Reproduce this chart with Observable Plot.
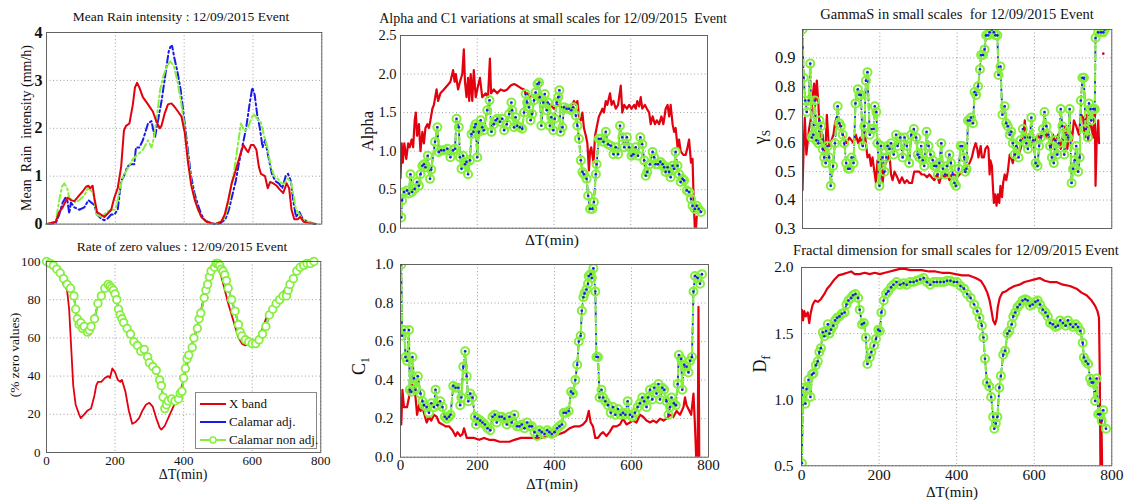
<!DOCTYPE html>
<html><head><meta charset="utf-8">
<script src="https://cdn.jsdelivr.net/npm/d3@7"></script>
<script src="https://cdn.jsdelivr.net/npm/@observablehq/plot@0.6"></script>
<style>
body{margin:0;background:#fff;}
#root{position:relative;width:1130px;height:502px;overflow:hidden;font-family:"Liberation Serif","DejaVu Serif",serif;color:#111;}
#root svg text{font-family:"Liberation Serif","DejaVu Serif",serif;}
.lbl{position:absolute;white-space:nowrap;transform:translate(-50%,-50%);line-height:1;}
.rot{transform:translate(-50%,-50%) rotate(-90deg);}
#legend{position:absolute;left:195px;top:392px;width:122px;height:57px;border:1px solid #888;background:#fff;box-sizing:border-box;font-size:13px;white-space:nowrap;}
#legend .row{position:absolute;left:4px;height:16px;display:flex;align-items:center;white-space:nowrap;}
#legend svg{margin-right:3px;flex:none;}
sub{font-size:0.65em;}
</style></head>
<body><div id="root"></div>
<script>
// ---------- data (minutes, value) ----------
const xTicks = [0, 200, 400, 600, 800];

const rainXband = [[0,0],[27,0.05],[37,0.25],[47,0.35],[61,0.55],[71,0.5],[81,0.48],[95,0.6],[105,0.68],[115,0.78],[122,0.8],[127,0.75],[134,0.8],[139,0.55],[147,0.25],[158,0.2],[168,0.15],[178,0.22],[188,0.3],[197,0.55],[207,0.75],[217,1.2],[225,1.95],[231,2.05],[241,2.1],[251,2.5],[257,2.85],[263,2.95],[270,2.85],[280,2.65],[295,2.5],[309,2.35],[319,2.15],[329,2.0],[334,2.05],[343,2.3],[353,2.5],[363,2.52],[372,2.45],[382,2.35],[392,2.25],[402,1.9],[411,1.3],[421,0.8],[431,0.5],[441,0.3],[450,0.15],[465,0.05],[489,0],[508,0.05],[518,0.2],[528,0.5],[538,0.85],[547,1.05],[557,1.3],[565,1.5],[572,1.65],[581,1.55],[586,1.5],[594,1.65],[602,1.65],[610,1.55],[617,1.2],[623,1.05],[635,1.0],[643,0.75],[650,0.88],[659,0.85],[669,0.8],[678,0.72],[688,0.65],[698,0.85],[705,0.75],[712,0.3],[720,0.1],[730,0.1],[737,0.15],[747,0.05],[761,0.02],[785,0]];
const rainAdj = [[0,0],[27,0.02],[37,0.2],[47,0.45],[55,0.55],[61,0.48],[66,0.22],[71,0.45],[81,0.35],[95,0.3],[110,0.35],[122,0.5],[130,0.45],[139,0.4],[147,0.2],[158,0.12],[168,0.08],[178,0.12],[188,0.2],[197,0.2],[207,0.3],[217,0.9],[225,1.0],[235,1.2],[245,1.25],[255,1.25],[260,1.6],[270,1.6],[280,1.75],[295,2.1],[305,2.15],[315,1.8],[325,2.2],[335,2.6],[345,3.1],[355,3.6],[360,3.7],[365,3.72],[372,3.45],[380,3.2],[390,2.8],[400,2.2],[410,1.6],[420,1.0],[430,0.65],[440,0.4],[450,0.2],[460,0.08],[475,0.03],[490,0],[505,0.02],[520,0.1],[530,0.3],[540,0.6],[550,0.9],[560,1.3],[570,1.65],[580,2.0],[590,2.5],[598,2.85],[605,2.7],[612,2.3],[620,2.0],[628,1.6],[635,1.75],[645,1.4],[655,1.05],[665,0.9],[675,0.85],[685,0.75],[695,1.0],[702,1.05],[710,0.9],[718,0.45],[725,0.15],[735,0.25],[745,0.1],[760,0.05],[780,0]];
const rainNonAdj = [[0,0],[27,0.05],[37,0.5],[45,0.78],[52,0.85],[60,0.75],[66,0.55],[75,0.5],[85,0.45],[95,0.5],[110,0.6],[120,0.75],[130,0.7],[137,0.6],[145,0.2],[160,0.15],[175,0.25],[190,0.3],[200,0.3],[210,0.6],[220,0.95],[235,1.15],[250,1.35],[265,1.45],[280,1.55],[295,1.75],[305,1.6],[312,1.8],[320,2.2],[330,2.8],[340,3.1],[350,3.3],[360,3.4],[370,3.3],[380,3.0],[390,2.6],[400,2.1],[410,1.5],[420,0.9],[430,0.55],[440,0.3],[450,0.15],[460,0.08],[475,0.02],[490,0],[505,0.05],[515,0.1],[525,0.3],[535,0.7],[545,1.1],[555,1.6],[565,2.1],[575,1.95],[585,2.0],[595,2.2],[602,2.3],[612,2.2],[622,2.15],[632,1.85],[642,1.6],[652,1.2],[662,1.0],[672,0.95],[682,0.85],[692,0.85],[700,0.95],[710,0.9],[718,0.6],[725,0.3],[735,0.2],[745,0.1],[760,0.05],[780,0]];

const zeroXband = [[0,100],[20,98],[30,96],[40,92],[50,88],[60,85],[66,75],[72,55],[78,35],[85,25],[95,20],[100,18],[110,20],[120,22],[130,23],[140,30],[145,35],[150,37],[160,37],[170,39],[180,40],[185,39],[192,44],[200,42],[208,38],[215,37],[220,38],[230,32],[240,22],[250,15],[260,16],[270,18],[280,22],[290,25],[300,26],[310,24],[320,18],[330,13],[335,12],[345,14],[355,18],[365,22],[375,26],[385,30],[395,35],[405,42],[415,50],[425,57],[435,63],[445,70],[455,78],[465,85],[475,92],[490,98],[500,97],[510,92],[520,85],[530,78],[540,72],[550,66],[560,60],[570,57],[580,56],[590,57],[600,58],[610,58],[620,60],[630,65],[640,70],[650,74],[660,77],[670,80],[680,82],[690,84],[700,86],[710,88],[720,92],[730,95],[740,98],[750,99],[770,99],[785,100]];
const zeroNonAdj = [[0,100],[10,99],[20,98],[30,96],[40,94],[50,91],[60,88],[70,86],[80,82],[85,75],[90,70],[95,67],[100,68],[105,65],[110,66],[120,63],[125,64],[130,66],[140,70],[150,78],[160,82],[170,86],[180,88],[185,87],[190,86],[195,85],[200,83],[205,80],[210,75],[215,72],[220,70],[225,68],[235,65],[245,62],[255,58],[265,56],[275,53],[285,54],[295,50],[300,47],[310,45],[320,43],[330,38],[335,35],[340,29],[345,23],[350,25],[355,27],[365,28],[375,27],[385,28],[390,31],[395,32],[400,39],[405,44],[410,49],[415,51],[425,55],[430,60],[440,65],[445,70],[450,73],[460,81],[465,85],[470,88],[475,92],[480,95],[490,97],[495,99],[500,99],[505,98],[510,96],[515,95],[520,93],[525,90],[530,86],[540,80],[550,74],[560,67],[565,63],[570,61],[580,59],[590,58],[600,57],[610,57],[620,59],[630,62],[640,66],[650,72],[660,75],[670,78],[680,80],[690,82],[700,82],[705,85],[710,88],[720,91],[730,95],[740,97],[750,98],[760,99],[770,99],[780,100]];
const zeroAdj = zeroNonAdj;

const alphaXband = [[0,0.65],[3,1.1],[6,0.85],[10,1.1],[15,0.9],[20,1.1],[24,1.05],[29,1.15],[33,1.05],[37,1.4],[40,1.5],[43,1.2],[48,1.35],[52,1.0],[57,1.25],[61,1.1],[65,1.3],[70,1.35],[74,1.3],[78,1.4],[83,1.55],[87,1.6],[94,1.8],[98,1.65],[104,1.75],[113,1.8],[122,1.85],[130,1.9],[137,2.05],[141,1.9],[144,2.0],[150,1.8],[155,1.9],[161,2.0],[165,2.32],[168,1.9],[172,1.7],[176,1.95],[179,1.65],[183,2.0],[187,1.65],[191,2.05],[196,1.7],[200,1.8],[207,1.95],[213,1.7],[222,1.75],[228,1.7],[233,2.2],[236,1.75],[243,1.8],[252,1.75],[261,1.8],[270,1.78],[278,1.8],[287,1.85],[296,1.87],[304,1.85],[313,1.82],[322,1.8],[326,1.75],[330,1.75],[339,1.7],[348,1.72],[357,1.7],[365,1.65],[374,1.68],[383,1.62],[391,1.6],[400,1.55],[409,1.6],[417,1.58],[426,1.55],[435,1.6],[443,1.55],[452,1.65],[457,1.6],[461,1.65],[465,1.45],[470,1.4],[474,1.5],[478,1.3],[483,1.2],[487,1.1],[491,0.75],[494,1.0],[497,1.05],[503,0.85],[507,1.2],[511,1.3],[517,1.45],[522,1.5],[526,1.55],[530,1.5],[535,1.65],[539,1.6],[546,1.75],[550,1.6],[555,1.65],[561,1.55],[567,1.6],[574,1.85],[578,1.5],[583,1.6],[590,1.55],[596,1.6],[602,1.55],[609,1.6],[613,1.55],[617,1.65],[622,1.58],[626,1.7],[630,1.55],[637,1.6],[642,1.55],[648,1.5],[652,1.35],[657,1.45],[663,1.35],[668,1.4],[674,1.35],[680,1.45],[685,1.35],[691,1.55],[696,1.6],[700,1.45],[704,1.6],[709,1.35],[713,1.25],[717,1.3],[722,1.05],[726,1.15],[730,1.0],[737,0.95],[743,0.95],[748,1.05],[752,1.15],[757,0.85],[761,0.9],[764,0.35],[767,0],[770,0],[772,0.15]];
const alphaNonAdj = [[2,0.14],[4,0.36],[9,0.47],[17,0.49],[22,0.45],[26,0.7],[30,0.47],[37,0.51],[43,0.6],[48,0.55],[52,0.7],[57,0.81],[61,0.83],[65,0.79],[71,0.94],[77,0.64],[80,0.76],[90,1.12],[96,1.31],[100,0.99],[106,1.01],[113,1.01],[122,1.03],[130,0.92],[137,1.01],[142,1.03],[146,1.42],[152,1.31],[155,0.92],[159,0.77],[163,0.94],[168,0.83],[172,0.86],[176,0.7],[181,0.88],[185,1.22],[190,1.25],[193,1.31],[196,1.35],[200,0.92],[204,1.25],[209,1.4],[213,1.31],[217,1.27],[226,1.53],[232,1.66],[237,1.25],[243,1.35],[248,1.4],[252,1.42],[259,1.38],[265,1.42],[270,1.27],[277,1.35],[283,1.48],[289,1.63],[291,1.53],[296,1.31],[300,1.44],[304,1.33],[311,1.31],[317,1.29],[322,1.5],[326,1.74],[330,1.63],[335,1.57],[339,1.4],[343,1.48],[348,1.66],[352,1.76],[357,1.87],[361,1.89],[363,1.7],[367,1.33],[372,1.63],[376,1.74],[381,1.53],[384,1.63],[389,1.33],[393,1.44],[398,1.27],[402,1.42],[407,1.63],[411,1.7],[414,1.79],[417,1.25],[422,1.31],[426,1.57],[433,1.55],[439,1.55],[445,1.53],[450,1.57],[457,1.46],[461,1.33],[465,1.16],[470,0.88],[474,0.73],[478,0.7],[485,0.64],[489,0.42],[494,0.25],[500,0.25],[504,0.34],[509,0.7],[511,0.83],[517,1.16],[522,1.16],[529,1.12],[535,1.25],[541,1.09],[548,1.07],[555,0.96],[561,1.05],[567,0.96],[572,1.33],[578,1.18],[583,1.05],[590,1.18],[596,1.05],[602,0.94],[607,0.96],[613,1.05],[619,0.94],[625,1.18],[630,1.09],[635,0.88],[639,0.68],[643,0.73],[650,0.83],[657,0.99],[661,0.92],[665,0.83],[671,0.83],[677,0.86],[683,0.83],[687,0.79],[691,0.73],[696,0.79],[700,0.73],[704,0.66],[709,0.81],[713,0.77],[717,0.99],[722,0.81],[726,0.7],[730,0.6],[735,0.64],[739,0.62],[746,0.49],[752,0.47],[757,0.38],[761,0.29],[767,0.25],[772,0.29],[777,0.25],[783,0.21]];
const alphaAdj = alphaNonAdj;

const c1Xband = [[2,0.17],[5,0.35],[9,0.26],[13,0.26],[17,0.26],[22,0.31],[24,0.36],[28,0.38],[33,0.37],[37,0.35],[40,0.29],[43,0.22],[48,0.27],[52,0.24],[57,0.26],[61,0.23],[68,0.18],[74,0.21],[80,0.19],[87,0.22],[94,0.21],[100,0.18],[109,0.17],[117,0.16],[126,0.16],[135,0.14],[143,0.11],[148,0.13],[155,0.11],[161,0.12],[165,0.15],[172,0.1],[181,0.1],[191,0.1],[204,0.09],[217,0.1],[230,0.09],[243,0.09],[257,0.08],[270,0.08],[283,0.08],[296,0.09],[313,0.1],[330,0.1],[348,0.1],[365,0.1],[383,0.11],[400,0.11],[413,0.12],[426,0.13],[439,0.15],[452,0.16],[465,0.16],[474,0.17],[483,0.19],[489,0.24],[494,0.18],[500,0.16],[506,0.1],[513,0.1],[520,0.12],[526,0.13],[535,0.11],[543,0.13],[552,0.16],[561,0.16],[570,0.17],[578,0.2],[587,0.17],[596,0.18],[604,0.19],[613,0.18],[622,0.22],[630,0.21],[639,0.19],[648,0.18],[657,0.19],[665,0.18],[674,0.2],[683,0.19],[691,0.2],[700,0.22],[709,0.21],[717,0.24],[726,0.22],[735,0.26],[739,0.31],[743,0.27],[748,0.25],[755,0.22],[761,0.33],[765,0.16],[768,0],[772,0],[774,0.78],[776,0]];
const c1NonAdj = [[2,1.0],[4,0.63],[10,0.66],[13,0.52],[17,0.5],[22,0.66],[24,0.35],[28,0.34],[31,0.52],[35,0.41],[39,0.35],[45,0.42],[52,0.33],[57,0.29],[61,0.27],[68,0.26],[74,0.23],[80,0.28],[87,0.26],[91,0.35],[96,0.27],[103,0.29],[109,0.26],[115,0.21],[120,0.2],[126,0.21],[130,0.22],[137,0.37],[143,0.36],[150,0.36],[155,0.27],[158,0.31],[163,0.47],[168,0.55],[172,0.42],[176,0.29],[181,0.33],[187,0.31],[193,0.21],[196,0.17],[200,0.2],[207,0.19],[213,0.18],[219,0.17],[226,0.15],[233,0.14],[239,0.21],[245,0.22],[250,0.18],[257,0.21],[263,0.21],[270,0.2],[276,0.17],[283,0.21],[289,0.18],[296,0.22],[303,0.16],[309,0.16],[315,0.17],[322,0.15],[329,0.18],[335,0.16],[341,0.16],[348,0.13],[355,0.11],[361,0.14],[367,0.13],[374,0.12],[381,0.14],[387,0.13],[393,0.12],[400,0.13],[407,0.15],[413,0.16],[419,0.17],[424,0.23],[430,0.23],[437,0.24],[443,0.34],[448,0.33],[454,0.4],[459,0.48],[463,0.6],[468,0.63],[471,0.76],[475,0.83],[478,0.85],[483,0.87],[487,0.9],[489,0.94],[494,0.95],[497,0.93],[501,0.98],[506,0.86],[509,0.52],[513,0.52],[517,0.31],[522,0.35],[526,0.31],[532,0.29],[539,0.27],[546,0.23],[552,0.26],[558,0.22],[565,0.25],[572,0.22],[578,0.23],[584,0.22],[590,0.29],[596,0.22],[602,0.21],[609,0.23],[616,0.26],[622,0.28],[628,0.31],[633,0.29],[639,0.26],[643,0.31],[648,0.35],[654,0.3],[659,0.36],[665,0.33],[670,0.38],[674,0.3],[680,0.36],[685,0.35],[691,0.29],[696,0.22],[700,0.26],[704,0.31],[710,0.28],[715,0.27],[720,0.38],[723,0.53],[729,0.51],[732,0.35],[737,0.48],[743,0.47],[748,0.44],[752,0.5],[757,0.52],[761,0.86],[765,0.94],[772,0.93],[778,0.9],[783,0.95]];
const c1Adj = c1NonAdj;

const gammaXband = [[0,0.435],[3,0.59],[6,0.69],[10,0.56],[13,0.6],[17,0.65],[22,0.69],[26,0.76],[30,0.81],[34,0.75],[37,0.82],[41,0.74],[44,0.65],[48,0.6],[52,0.63],[56,0.56],[60,0.6],[63,0.7],[67,0.61],[70,0.59],[75,0.61],[80,0.63],[84,0.67],[88,0.69],[92,0.68],[98,0.66],[104,0.63],[110,0.61],[115,0.6],[121,0.62],[127,0.61],[132,0.6],[138,0.63],[144,0.6],[149,0.62],[156,0.59],[160,0.65],[164,0.6],[168,0.55],[173,0.56],[177,0.52],[181,0.55],[186,0.5],[190,0.46],[194,0.54],[199,0.49],[203,0.55],[207,0.46],[212,0.52],[219,0.54],[225,0.56],[229,0.49],[233,0.47],[238,0.5],[245,0.48],[251,0.46],[257,0.48],[264,0.46],[270,0.47],[276,0.46],[283,0.46],[289,0.5],[296,0.5],[302,0.5],[308,0.49],[315,0.49],[322,0.48],[328,0.49],[334,0.48],[341,0.47],[348,0.49],[354,0.46],[360,0.49],[367,0.48],[374,0.49],[380,0.47],[386,0.49],[393,0.49],[400,0.48],[406,0.49],[412,0.5],[419,0.51],[426,0.52],[432,0.53],[438,0.55],[443,0.58],[448,0.6],[452,0.58],[455,0.55],[461,0.59],[464,0.55],[469,0.55],[473,0.58],[478,0.59],[481,0.58],[484,0.49],[486,0.54],[490,0.52],[492,0.46],[495,0.39],[498,0.42],[502,0.38],[505,0.42],[509,0.39],[512,0.45],[516,0.41],[519,0.46],[523,0.49],[527,0.47],[531,0.5],[536,0.56],[540,0.55],[544,0.53],[549,0.56],[553,0.59],[557,0.58],[562,0.57],[566,0.59],[570,0.61],[575,0.68],[579,0.61],[585,0.63],[590,0.59],[596,0.61],[602,0.61],[609,0.63],[616,0.61],[622,0.65],[628,0.62],[635,0.64],[642,0.58],[648,0.63],[654,0.6],[661,0.63],[668,0.58],[674,0.63],[680,0.66],[685,0.58],[691,0.65],[697,0.61],[702,0.68],[708,0.66],[715,0.63],[720,0.7],[726,0.69],[730,0.62],[734,0.7],[739,0.61],[743,0.67],[747,0.66],[752,0.62],[756,0.73],[758,0.45],[761,0.61],[765,0.68],[767,0.6]];
const gammaXbandDot = [[778,0.915]];
const gammaNonAdj = [[0,1.0],[3,0.83],[7,0.75],[11,0.71],[16,0.75],[20,0.88],[24,0.62],[28,0.63],[32,0.75],[36,0.61],[41,0.6],[44,0.68],[48,0.66],[52,0.58],[56,0.55],[60,0.53],[65,0.59],[69,0.55],[73,0.45],[79,0.52],[84,0.6],[91,0.73],[95,0.67],[99,0.66],[104,0.63],[108,0.6],[113,0.53],[118,0.51],[122,0.51],[127,0.55],[132,0.53],[137,0.74],[143,0.79],[147,0.77],[151,0.77],[156,0.59],[160,0.66],[164,0.82],[168,0.85],[174,0.63],[179,0.65],[184,0.65],[187,0.73],[191,0.71],[194,0.6],[199,0.45],[203,0.59],[207,0.55],[212,0.5],[217,0.55],[220,0.59],[225,0.58],[229,0.6],[236,0.56],[242,0.63],[246,0.59],[253,0.62],[259,0.55],[264,0.62],[270,0.59],[276,0.53],[281,0.63],[288,0.65],[294,0.62],[298,0.56],[302,0.55],[307,0.59],[311,0.54],[315,0.52],[321,0.64],[326,0.59],[331,0.56],[337,0.54],[341,0.52],[346,0.52],[350,0.49],[354,0.53],[359,0.6],[363,0.51],[369,0.49],[374,0.52],[380,0.56],[384,0.53],[389,0.49],[393,0.46],[397,0.45],[404,0.51],[409,0.59],[413,0.59],[418,0.55],[421,0.5],[424,0.51],[428,0.68],[433,0.68],[436,0.69],[441,0.67],[445,0.78],[449,0.77],[454,0.8],[459,0.86],[462,0.91],[467,0.91],[471,0.93],[475,0.98],[480,0.98],[484,0.99],[490,1.0],[495,0.99],[499,0.98],[504,0.98],[507,0.84],[512,0.87],[517,0.7],[523,0.73],[527,0.67],[531,0.66],[536,0.63],[540,0.64],[544,0.6],[549,0.56],[553,0.59],[559,0.55],[564,0.61],[570,0.65],[575,0.62],[579,0.6],[583,0.58],[588,0.62],[592,0.69],[597,0.61],[603,0.53],[608,0.52],[612,0.59],[616,0.62],[622,0.65],[626,0.71],[631,0.66],[635,0.63],[640,0.59],[645,0.55],[650,0.53],[654,0.61],[659,0.56],[663,0.6],[668,0.72],[672,0.66],[677,0.56],[683,0.63],[687,0.62],[691,0.72],[696,0.46],[700,0.51],[704,0.54],[708,0.59],[713,0.5],[717,0.55],[720,0.75],[724,0.83],[728,0.83],[732,0.65],[738,0.62],[741,0.74],[745,0.72],[747,0.68],[752,0.72],[756,0.72],[758,0.97],[765,0.99],[772,0.99],[778,0.99],[782,1.0]];
const gammaAdj = gammaNonAdj;

const dfXband = [[1,1.68],[4,1.6],[7,1.67],[11,1.63],[16,1.66],[20,1.58],[24,1.66],[29,1.72],[35,1.75],[42,1.74],[50,1.76],[59,1.8],[66,1.84],[75,1.87],[85,1.91],[95,1.94],[107,1.95],[118,1.96],[128,1.97],[137,1.95],[150,1.95],[163,1.96],[176,1.95],[189,1.96],[202,1.95],[215,1.96],[228,1.97],[241,1.98],[254,1.99],[267,1.99],[280,1.98],[293,1.98],[310,1.98],[328,1.97],[345,1.97],[362,1.96],[380,1.96],[397,1.95],[414,1.94],[432,1.94],[449,1.92],[462,1.9],[471,1.86],[479,1.81],[485,1.75],[490,1.67],[494,1.6],[499,1.57],[503,1.61],[506,1.7],[511,1.77],[518,1.81],[527,1.82],[536,1.84],[549,1.86],[562,1.87],[575,1.89],[588,1.9],[601,1.91],[614,1.92],[627,1.9],[640,1.89],[657,1.89],[674,1.87],[692,1.86],[709,1.84],[722,1.81],[735,1.79],[748,1.75],[757,1.71],[763,1.67],[767,1.62],[769,1.2],[771,0.35],[773,0.9],[776,0.3]];
const dfNonAdj = [[1,0.52],[4,1.09],[10,0.97],[13,1.08],[18,1.15],[23,1.02],[27,1.19],[31,1.2],[37,1.26],[42,1.29],[46,1.36],[50,1.39],[55,1.51],[59,1.48],[63,1.52],[68,1.57],[72,1.5],[76,1.53],[82,1.56],[87,1.6],[92,1.62],[98,1.63],[104,1.65],[111,1.66],[116,1.72],[121,1.75],[128,1.77],[133,1.79],[139,1.8],[146,1.77],[150,1.68],[156,1.57],[161,1.58],[166,1.47],[170,1.27],[176,1.32],[180,1.36],[187,1.41],[192,1.46],[198,1.53],[202,1.52],[206,1.66],[212,1.75],[218,1.8],[224,1.82],[231,1.85],[237,1.87],[245,1.89],[254,1.87],[263,1.88],[271,1.87],[280,1.89],[289,1.89],[297,1.9],[306,1.91],[315,1.92],[323,1.89],[332,1.87],[341,1.89],[349,1.89],[358,1.89],[367,1.89],[375,1.9],[384,1.9],[393,1.89],[401,1.89],[410,1.86],[419,1.84],[427,1.8],[436,1.77],[445,1.72],[453,1.67],[459,1.62],[465,1.56],[469,1.47],[473,1.31],[478,1.13],[484,1.1],[489,1.02],[494,0.87],[497,0.78],[501,0.82],[505,0.87],[510,1.09],[514,1.18],[520,1.34],[525,1.37],[531,1.5],[536,1.52],[542,1.57],[546,1.63],[551,1.66],[557,1.7],[563,1.72],[570,1.75],[577,1.76],[583,1.75],[589,1.71],[596,1.72],[603,1.74],[609,1.75],[615,1.72],[622,1.68],[629,1.66],[635,1.63],[641,1.58],[648,1.57],[655,1.55],[661,1.56],[667,1.6],[674,1.58],[681,1.56],[687,1.6],[693,1.57],[700,1.55],[707,1.57],[713,1.55],[719,1.52],[725,1.43],[728,1.32],[733,1.29],[739,1.27],[744,1.16],[748,1.13],[752,1.13],[757,0.99],[761,1.16],[765,0.89],[770,0.89],[774,0.84],[778,0.92],[785,0.78]];
const dfAdj = dfNonAdj;

// ---------- styles ----------
const RED = "#e3000f", BLUE = "#1a1ae8", GREEN = "#86ef3e";
const toObj = a => a.map(([t, v]) => ({t, v}));
const root = document.getElementById("root");

function panel(cfg) {
  const ML = 60, MR = 12, MT = 12, MB = 40;
  const w = cfg.x1 - cfg.x0 + ML + MR, h = cfg.y1 - cfg.y0 + MT + MB;
  const grid = {stroke: "#8a8a8a", strokeOpacity: 1, strokeWidth: 0.8, strokeDasharray: "1,2.5"};
  const marks = [
    Plot.gridX(xTicks, grid),
    Plot.gridY(cfg.yticks, grid),
    Plot.axisY(cfg.yticks, {tickSize: 0, tickPadding: cfg.padY, label: null, fontSize: cfg.font, fontWeight: cfg.bold ? "bold" : "normal"}),
    cfg.showX
      ? Plot.axisX(xTicks, {tickSize: 0, tickPadding: cfg.padX, label: null, fontSize: cfg.font})
      : Plot.axisX(xTicks, {tickSize: 0, tickFormat: () => "", label: null}),
    ...cfg.marks,
    Plot.frame({stroke: "#555", strokeWidth: 0.9})
  ];
  const p = Plot.plot({
    width: w, height: h, marginLeft: ML, marginRight: MR, marginTop: MT, marginBottom: MB,
    style: {fontFamily: "'Liberation Serif', serif", background: "transparent", color: "#111", overflow: "visible"},
    x: {domain: [0, 800]},
    y: {domain: cfg.ydomain},
    marks
  });
  p.style.position = "absolute";
  p.style.left = (cfg.x0 - ML) + "px";
  p.style.top = (cfg.y0 - MT) + "px";
  root.appendChild(p);
}

const redLine = (d, w = 2) => Plot.line(toObj(d), {x: "t", y: "v", stroke: RED, strokeWidth: w, clip: true});
const blueDash = d => Plot.line(toObj(d), {x: "t", y: "v", stroke: BLUE, strokeWidth: 1.8, strokeDasharray: "6,3,1.5,3", clip: true});
const greenDash = d => Plot.line(toObj(d), {x: "t", y: "v", stroke: GREEN, strokeWidth: 2.2, strokeDasharray: "6,4", clip: true});
const greenRings = d => Plot.dot(toObj(d), {x: "t", y: "v", r: 4, stroke: GREEN, strokeWidth: 2, fill: "none", clip: true});
const blueDots = d => Plot.dot(toObj(d), {x: "t", y: "v", r: 1.3, fill: BLUE, stroke: "none", clip: true});
const scaleMarks = (xb, adj, non) => [redLine(xb, 2.2), blueDash(adj), greenDash(non), greenRings(non), blueDots(adj)];

// Panel 1: mean rain intensity
panel({x0: 45.7, x1: 321, y0: 31.7, y1: 223.3, ydomain: [0, 4], yticks: [0, 1, 2, 3, 4],
  showX: false, font: 16, bold: true, padY: 4,
  marks: [
    Plot.line(toObj(rainAdj), {x: "t", y: "v", stroke: BLUE, strokeWidth: 2, strokeDasharray: "7,3,2,3"}),
    Plot.line(toObj(rainNonAdj), {x: "t", y: "v", stroke: GREEN, strokeWidth: 2, strokeDasharray: "7,3,2,3"}),
    redLine(rainXband, 2)
  ]});

// Panel 2: rate of zero values
panel({x0: 45.7, x1: 320, y0: 260.7, y1: 451.7, ydomain: [0, 100], yticks: [0, 20, 40, 60, 80, 100],
  showX: true, font: 13, padY: 6, padX: 3,
  marks: [
    redLine(zeroXband, 1.8),
    Plot.line(toObj(zeroAdj), {x: "t", y: "v", stroke: BLUE, strokeWidth: 1.8}),
    Plot.line(toObj(zeroNonAdj), {x: "t", y: "v", stroke: GREEN, strokeWidth: 2}),
    Plot.dot(toObj(zeroNonAdj), {x: "t", y: "v", r: 3.8, stroke: GREEN, strokeWidth: 1.8, fill: "#fff"})
  ]});

// Panel 3: Alpha
panel({x0: 400, x1: 707, y0: 35, y1: 227.7, ydomain: [0, 2.5], yticks: [0, 0.5, 1, 1.5, 2, 2.5],
  showX: false, font: 14.5, padY: 4, marks: scaleMarks(alphaXband, alphaAdj, alphaNonAdj)});

// Panel 4: C1
panel({x0: 400, x1: 708, y0: 264, y1: 456.7, ydomain: [0, 1], yticks: [0, 0.2, 0.4, 0.6, 0.8, 1],
  showX: true, font: 15, padY: 7, padX: 2, marks: scaleMarks(c1Xband, c1Adj, c1NonAdj)});

// Panel 5: GammaS
panel({x0: 801.7, x1: 1111, y0: 29.3, y1: 228.3, ydomain: [0.3, 1], yticks: [0.3, 0.4, 0.5, 0.6, 0.7, 0.8, 0.9],
  showX: false, font: 16.5, padY: 7,
  marks: [...scaleMarks(gammaXband, gammaAdj, gammaNonAdj),
    Plot.dot(toObj(gammaXbandDot), {x: "t", y: "v", r: 1.3, fill: RED})]});

// Panel 6: Fractal dimension
panel({x0: 800.7, x1: 1111, y0: 266.7, y1: 465, ydomain: [0.5, 2], yticks: [0.5, 1, 1.5, 2],
  showX: true, font: 15.5, padY: 8, padX: 3, marks: scaleMarks(dfXband, dfAdj, dfNonAdj)});

// ---------- texts ----------
function label(html, x, y, size, rot) {
  const d = document.createElement("div");
  d.className = "lbl" + (rot ? " rot" : "");
  d.style.left = x + "px"; d.style.top = y + "px"; d.style.fontSize = size + "px";
  d.innerHTML = html;
  root.appendChild(d);
}
label("Mean Rain intensity : 12/09/2015 Event", 181, 17, 13.5);
label("Rate of zero values : 12/09/2015 Event", 182, 247, 13.5);
label("Alpha and C1 variations at small scales for 12/09/2015&nbsp; Event", 553, 19, 14);
label("GammaS in small scales&nbsp; for 12/09/2015 Event", 957, 14, 14.5);
label("Fractal dimension for small scales for 12/09/2015 Event", 956, 250, 14.5);
label("Mean&nbsp; Rain&nbsp; intensity (mm/h)", 27, 128, 14, true);
label("(% zero values)", 15, 355, 13.5, true);
label("Alpha", 368, 131, 16.5, true);
label("C<sub>1</sub>", 361, 366, 18, true);
label("γ<sub>S</sub>", 762, 137, 18, true);
label("D<sub>f</sub>", 762, 364, 18, true);
label("ΔT(min)", 183, 475, 14);
label("ΔT(min)", 552, 240, 15.5);
label("ΔT(min)", 552, 484, 15);
label("ΔT(min)", 952, 492, 15);

// legend
const leg = document.createElement("div");
leg.id = "legend";
const items = [
  {name: "X band", color: RED, ring: false},
  {name: "Calamar adj.", color: BLUE, ring: false},
  {name: "Calamar non adj.", color: GREEN, ring: true}
];
items.forEach((it, i) => {
  const row = document.createElement("div");
  row.className = "row";
  row.style.top = (3 + i * 18) + "px";
  row.innerHTML = `<svg width="26" height="10"><line x1="0" y1="5" x2="26" y2="5" stroke="${it.color}" stroke-width="2"/>` +
    (it.ring ? `<circle cx="13" cy="5" r="3" fill="#fff" stroke="${it.color}" stroke-width="1.5"/>` : "") +
    `</svg><span>${it.name}</span>`;
  leg.appendChild(row);
});
root.appendChild(leg);
</script>
</body></html>
